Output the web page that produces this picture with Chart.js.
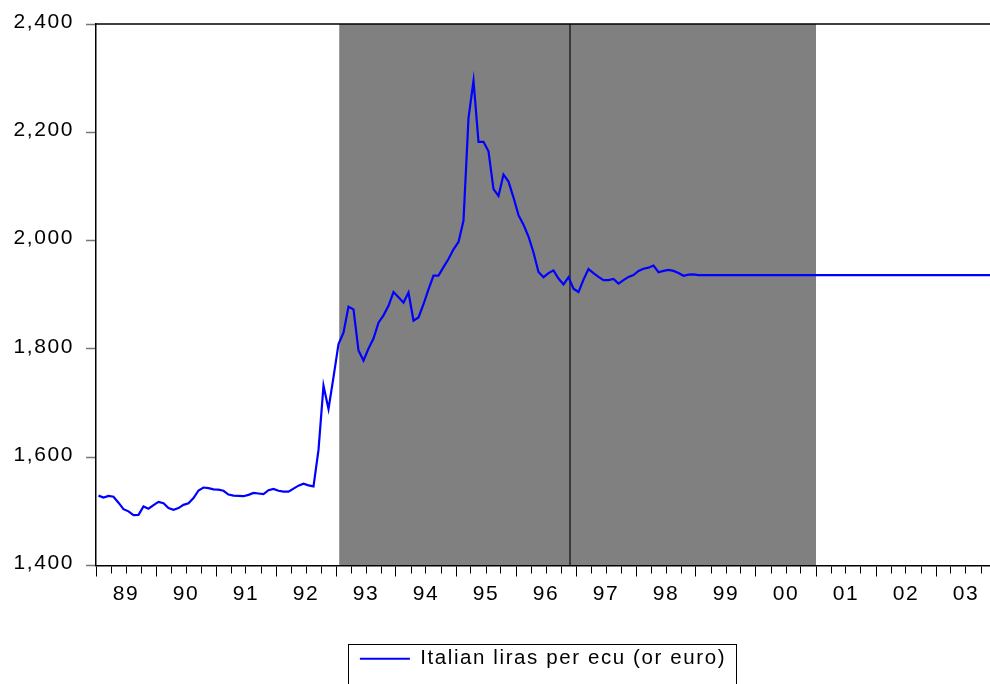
<!DOCTYPE html>
<html>
<head>
<meta charset="utf-8">
<script src="https://cdn.jsdelivr.net/npm/chart.js@4.4.1/dist/chart.umd.min.js"></script>
<style>
html,body{margin:0;padding:0;background:#fff;}
#wrap{width:990px;height:684px;position:relative;overflow:hidden;}
</style>
</head>
<body>
<div id="wrap"><canvas id="c" width="990" height="684"></canvas></div>
<script>
// ---------------- data ----------------
const firstYear = 1989;
const yearLabels = ['89','90','91','92','93','94','95','96','97','98','99','00','01','02','03'];
const seriesLabel = 'Italian liras per ecu (or euro)';
const yTickValues = [1400, 1600, 1800, 2000, 2200, 2400];
// monthly values, 1989M01 .. 2003M12
const lirasPerEcu = [
  1529, 1525.5, 1528.5, 1527, 1516, 1504, 1500, 1493, 1493.5, 1509, 1505, 1511.5,
  1517.5, 1515, 1506, 1503, 1506, 1512, 1515, 1524.5, 1538.5, 1544, 1543, 1540.5,
  1540, 1538, 1531, 1529, 1528.5, 1528, 1530.5, 1534, 1533, 1532, 1539, 1541.5,
  1538, 1536.5, 1536.5, 1542, 1547.5, 1551, 1548, 1546, 1613.5, 1732, 1689, 1748,
  1809, 1830, 1878, 1873, 1797, 1778.5, 1800.5, 1819, 1848.5, 1862, 1879.5, 1905,
  1895.5, 1885.5, 1904, 1852, 1858, 1882.5, 1910, 1935.5, 1935.5, 1951, 1966, 1984,
  1997.5, 2037, 2226, 2295, 2182.5, 2182.5, 2165, 2095, 2082.5, 2122, 2109, 2079.5,
  2047, 2029.5, 2007.5, 1978, 1942, 1932.5, 1940, 1945, 1930, 1919, 1932.5, 1911,
  1905, 1928, 1947.5, 1940, 1933, 1927, 1927, 1929, 1920.5, 1927, 1933, 1936.5,
  1944, 1948, 1950, 1954, 1941.5, 1944, 1946, 1944, 1940, 1935, 1937, 1937.5,
  1936.27, 1936.27, 1936.27, 1936.27, 1936.27, 1936.27, 1936.27, 1936.27, 1936.27, 1936.27, 1936.27, 1936.27,
  1936.27, 1936.27, 1936.27, 1936.27, 1936.27, 1936.27, 1936.27, 1936.27, 1936.27, 1936.27, 1936.27, 1936.27,
  1936.27, 1936.27, 1936.27, 1936.27, 1936.27, 1936.27, 1936.27, 1936.27, 1936.27, 1936.27, 1936.27, 1936.27,
  1936.27, 1936.27, 1936.27, 1936.27, 1936.27, 1936.27, 1936.27, 1936.27, 1936.27, 1936.27, 1936.27, 1936.27,
  1936.27, 1936.27, 1936.27, 1936.27, 1936.27, 1936.27, 1936.27, 1936.27, 1936.27, 1936.27, 1936.27, 1936.27
];
const shadedPeriod = ['1993-01-21', '2001-01-01'];
const markerDates = ['1996-11-25'];

// -------------- helpers ---------------
// month index (0 = 1989M01), observations sit at mid-month
function datePos(s) {
  const [y, m, d] = s.split('-').map(Number);
  const dim = new Date(y, m, 0).getDate();
  return (y - firstYear) * 12 + (m - 1) - 0.5 + (d - 1) / dim;
}
const points = lirasPerEcu.map((v, i) => ({x: i, y: v}));

const xTicks = [];
for (let q = 0; q * 3 - 0.5 <= 179.5; q++) {
  xTicks.push({value: q * 3 - 0.5, kind: (q % 4 === 0) ? 'major' : 'minor'});
}
yearLabels.forEach((lab, k) => xTicks.push({value: k * 12 + 5.5, kind: 'label', year: k}));
xTicks.sort((a, b) => a.value - b.value);

const FONT = "'Liberation Sans', Arial, sans-serif";

const decor = {
  id: 'decor',
  beforeUpdate(chart) { chart.ctx.letterSpacing = '1.6px'; },
  beforeDraw(chart) {
    const {ctx, chartArea: a, scales: {x}} = chart;
    ctx.letterSpacing = '1.6px';
    ctx.save();
    ctx.fillStyle = '#fff';
    ctx.fillRect(0, 0, chart.width, chart.height);
    const x0 = Math.max(a.left, x.getPixelForValue(datePos(shadedPeriod[0])));
    const x1 = Math.min(a.right, x.getPixelForValue(datePos(shadedPeriod[1])));
    ctx.fillStyle = '#808080';
    ctx.fillRect(x0, a.top, x1 - x0, a.bottom - a.top);
    ctx.restore();
  },
  beforeDatasetsDraw(chart) {
    const {ctx, chartArea: a, scales: {x}} = chart;
    ctx.save();
    ctx.strokeStyle = '#222';
    ctx.lineWidth = 1.5;
    markerDates.forEach(d => {
      const px = x.getPixelForValue(datePos(d));
      ctx.beginPath(); ctx.moveTo(px, a.top); ctx.lineTo(px, a.bottom); ctx.stroke();
    });
    ctx.restore();
  },
  afterDraw(chart) {
    const {ctx, chartArea: a} = chart;
    ctx.save();
    ctx.strokeStyle = '#000';
    ctx.lineWidth = 1.5;
    ctx.beginPath(); ctx.moveTo(a.left, a.top); ctx.lineTo(chart.width, a.top); ctx.stroke();
    const hb = chart.legend && chart.legend.legendHitBoxes && chart.legend.legendHitBoxes[0];
    if (hb) {
      const cy = hb.top + hb.height / 2;
      ctx.lineWidth = 1;
      ctx.strokeStyle = '#000';
      ctx.strokeRect(Math.round(hb.left - 12) + 0.5, Math.round(cy - 15) + 0.5, Math.round(hb.width + 22), 60);
    }
    ctx.restore();
  }
};

new Chart(document.getElementById('c'), {
  type: 'line',
  data: {
    datasets: [{
      label: seriesLabel,
      data: points,
      borderColor: '#0000ff',
      backgroundColor: '#0000ff',
      borderWidth: 2.2,
      pointRadius: 0,
      tension: 0,
      fill: false
    }]
  },
  options: {
    responsive: false,
    animation: false,
    devicePixelRatio: 1,
    layout: {padding: {top: 24, left: 0, right: 0, bottom: 5}},
    plugins: {
      legend: {
        position: 'bottom',
        fullSize: false,
        labels: {
          usePointStyle: true,
          pointStyle: 'line',
          pointStyleWidth: 50,
          color: '#000',
          padding: 10,
          font: {family: FONT, size: 20.5}
        }
      },
      tooltip: {enabled: false}
    },
    scales: {
      x: {
        type: 'linear',
        min: -0.5,
        max: 178.3,
        afterBuildTicks(s) { s.ticks = xTicks.map(t => Object.assign({}, t)); },
        afterFit(s) { s.height = 73; s.paddingLeft = 0; s.paddingRight = 0; },
        grid: {
          drawOnChartArea: false,
          tickLength: 11,
          tickWidth: 1,
          tickColor: c => (c.tick && c.tick.kind === 'label') ? 'rgba(0,0,0,0)' : '#000',
          tickBorderDash: c => (c.tick && c.tick.kind === 'minor') ? [7, 40] : []
        },
        border: {color: '#000', width: 1.5},
        ticks: {
          autoSkip: false,
          maxRotation: 0,
          minRotation: 0,
          padding: 5,
          color: '#000',
          font: {family: FONT, size: 21},
          callback(v, i, ticks) {
            const t = ticks[i];
            return t && t.kind === 'label' ? yearLabels[t.year] : '';
          }
        }
      },
      y: {
        min: yTickValues[0],
        max: yTickValues[yTickValues.length - 1],
        afterBuildTicks(s) { s.ticks = yTickValues.map(v => ({value: v})); },
        afterFit(s) { s.width = 96; s.paddingTop = 0; s.paddingBottom = 0; },
        grid: {drawOnChartArea: false, tickLength: 10, tickColor: '#777', tickWidth: 1.5},
        border: {color: '#000', width: 1.5},
        ticks: {
          padding: 12,
          labelOffset: -2,
          color: '#000',
          font: {family: FONT, size: 21},
          callback: v => v.toLocaleString('en-US')
        }
      }
    }
  },
  plugins: [decor]
});
</script>
</body>
</html>
